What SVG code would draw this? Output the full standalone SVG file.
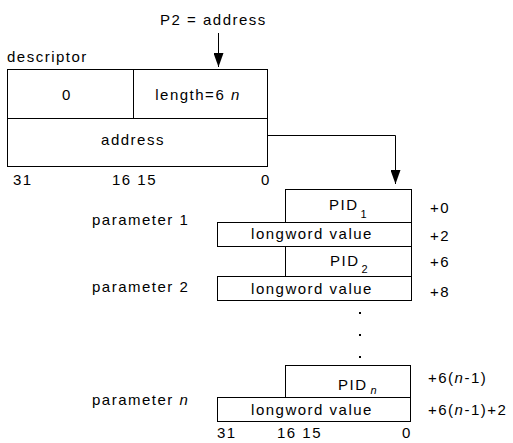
<svg xmlns="http://www.w3.org/2000/svg" width="513" height="443" viewBox="0 0 513 443">
<style>
text{font-family:"Liberation Sans",Arial,sans-serif;font-size:15px;letter-spacing:1.5px;fill:#000}
.m{text-anchor:middle}
.sub{font-size:11px;letter-spacing:0}
.i{font-style:italic}
.box{fill:#fff;stroke:#000;stroke-width:1}
.ln{fill:none;stroke:#000;stroke-width:1}
</style>
<defs>
<marker id="ah" markerUnits="userSpaceOnUse" markerWidth="14" markerHeight="10" viewBox="0 0 14 10" refX="14" refY="5" orient="auto">
<path d="M0,0 L14,5 L0,10 z" fill="#000"/>
</marker>
</defs>
<rect width="513" height="443" fill="#fff"/>

<g id="labels">
<text x="160" y="25">P2 = address</text>
<text x="7" y="62">descriptor</text>
<text x="13" y="185">31</text>
<text x="112" y="185">16 15</text>
<text x="261" y="185">0</text>
<text x="92" y="225">parameter 1</text>
<text x="92" y="292">parameter 2</text>
<text x="92" y="405">parameter <tspan class="i">n</tspan></text>
<text x="217" y="438">31</text>
<text x="277" y="438">16 15</text>
<text x="402" y="438">0</text>
</g>

<g id="descriptor">
<rect class="box" x="7.5" y="69.5" width="260" height="97"/>
<line class="ln" x1="7.5" y1="118.5" x2="267.5" y2="118.5"/>
<line class="ln" x1="133.5" y1="69.5" x2="133.5" y2="118.5"/>
<text class="m" x="67" y="100">0</text>
<text class="m" x="198" y="100">length=6 <tspan class="i">n</tspan></text>
<text class="m" x="133" y="145">address</text>
</g>

<g id="pid1">
<rect class="box" x="285.5" y="189.5" width="126" height="33"/>
<text x="329" y="210">PID<tspan class="sub" dx="2" dy="8">1</tspan></text>
</g>
<g id="lw1">
<rect class="box" x="217.5" y="222.5" width="194" height="24"/>
<text class="m" x="312" y="239">longword value</text>
</g>
<g id="pid2">
<rect class="box" x="285.5" y="246.5" width="126" height="30"/>
<text x="330" y="266">PID<tspan class="sub" dx="2" dy="7">2</tspan></text>
</g>
<g id="lw2">
<rect class="box" x="217.5" y="276.5" width="194" height="24"/>
<text class="m" x="312" y="294">longword value</text>
</g>
<g id="dots">
<rect x="359" y="312" width="2" height="2" fill="#000"/>
<rect x="359" y="334" width="2" height="2" fill="#000"/>
<rect x="359" y="356" width="2" height="2" fill="#000"/>
</g>
<g id="pidn">
<rect class="box" x="285.5" y="365.5" width="125" height="32"/>
<text x="338" y="390">PID<tspan class="sub i" dx="3" dy="4">n</tspan></text>
</g>
<g id="lwn">
<rect class="box" x="217.5" y="397.5" width="193" height="24"/>
<text class="m" x="312" y="415">longword value</text>
</g>

<g id="offsets">
<text x="430" y="213">+0</text>
<text x="430" y="241">+2</text>
<text x="430" y="267">+6</text>
<text x="430" y="297">+8</text>
<text x="428" y="383">+6(<tspan class="i">n</tspan>-1)</text>
<text x="428" y="415">+6(<tspan class="i">n</tspan>-1)+2</text>
</g>

<g id="connectors">
<path class="ln" d="M218.5,33 L218.5,67" marker-end="url(#ah)"/>
<path class="ln" d="M267.5,135.5 L395.5,135.5 L395.5,184" marker-end="url(#ah)"/>
</g>
</svg>
